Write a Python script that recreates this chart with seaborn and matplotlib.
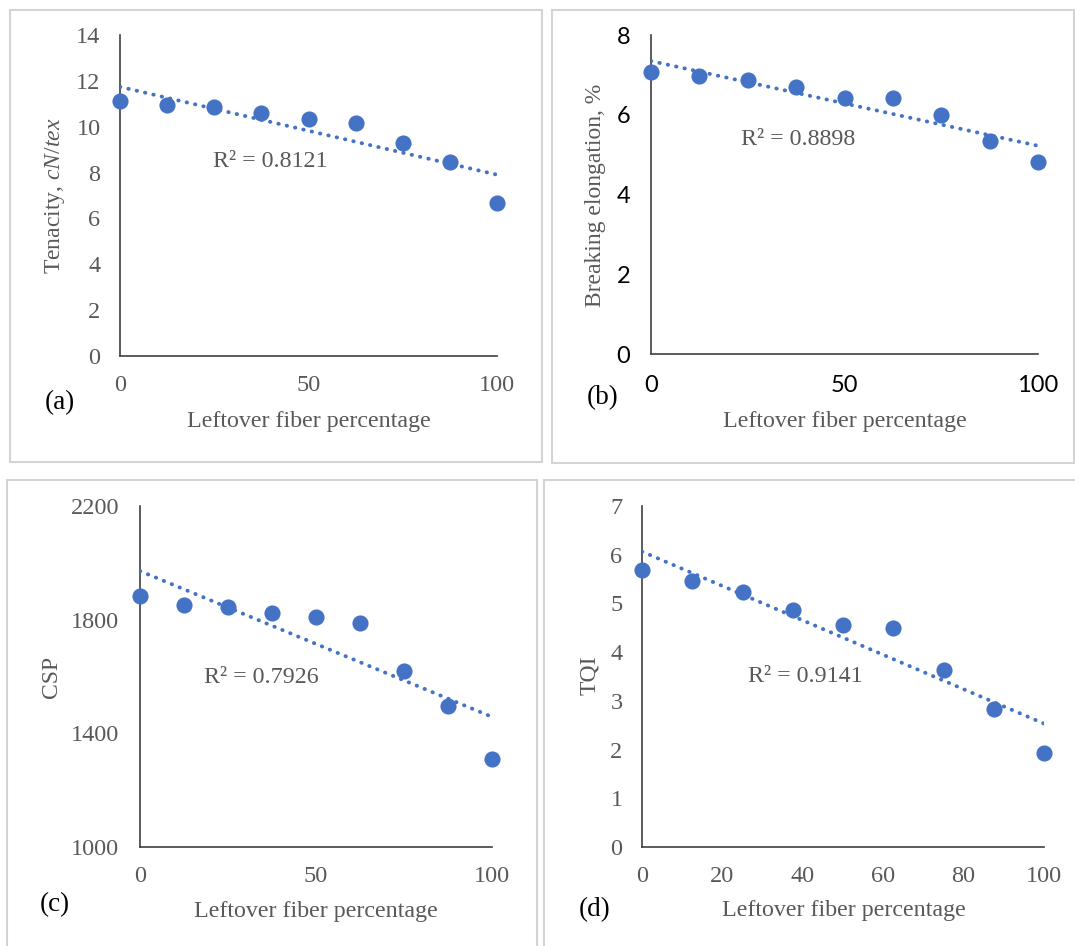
"""Four-panel yarn property vs leftover fiber percentage, Excel-style trendlines."""

import matplotlib

matplotlib.use("Agg")

import matplotlib.pyplot as plt
import seaborn as sns
from matplotlib.patches import Rectangle

# --------------------------------------------------------------------------- #
# data
# --------------------------------------------------------------------------- #
leftover = [0, 12.5, 25, 37.5, 50, 62.5, 75, 87.5, 100]
tenacity = [11.13, 10.93, 10.84, 10.61, 10.32, 10.15, 9.27, 8.47, 6.69]
elongation = [7.07, 6.97, 6.86, 6.69, 6.42, 6.41, 5.99, 5.33, 4.82]
csp = [1884, 1851, 1846, 1825, 1810, 1789, 1620, 1496, 1310]
tqi = [5.68, 5.47, 5.23, 4.87, 4.55, 4.49, 3.64, 2.84, 1.92]

r2_values = ["0.8121", "0.8898", "0.7926", "0.9141"]
panel_tags = ["(a)", "(b)", "(c)", "(d)"]
y_labels = [r"Tenacity, $\mathit{cN/tex}$", "Breaking elongation, %", "CSP", "TQI"]
x_label = "Leftover fiber percentage"
y_ticks = [list(range(0, 15, 2)), list(range(0, 9, 2)),
           [1000, 1400, 1800, 2200], list(range(0, 8))]
x_ticks = [[0, 50, 100], [0, 50, 100], [0, 50, 100], [0, 20, 40, 60, 80, 100]]

# --------------------------------------------------------------------------- #
# layout in pixels of the 1075x946 canvas
# --------------------------------------------------------------------------- #
W, H = 1075, 946
# axes: left, right, top, bottom
axes_px = [(120, 497, 35, 356), (651, 1038, 35, 354),
           (140, 492, 506, 847), (642, 1044, 506, 847)]
# panel frames: x0, y0, x1, y1
frames_px = [(10, 10, 542, 462), (552, 10, 1074, 463),
             (7, 480, 537, 955), (544, 480, 1085, 955)]
xlabel_px = [(309, 421), (845, 422), (316, 911), (844, 910)]
ylabel_px = [(55, 196), (596, 195), (52, 677), (590, 675)]
tag_px = [(60, 403), (603, 398), (55, 905), (595, 910)]
r2_pos = [(24.8, 8.5), (23.3, 5.39), (18.3, 1598), (26.4, 3.51)]
ytick_pad = [14, 15, 15, 14]
xtick_pad = [14, 15, 14, 14]

BLUE = "#4472C4"
GREY = "#595959"
SERIF = "Liberation Serif"

sns.set_style("white")
plt.rcParams["font.family"] = [SERIF, "DejaVu Sans"]
plt.rcParams["mathtext.fontset"] = "custom"
plt.rcParams["mathtext.rm"] = SERIF
plt.rcParams["mathtext.it"] = SERIF + ":italic"

fig = plt.figure(figsize=(W / 100, H / 100), dpi=100)

series = [tenacity, elongation, csp, tqi]
for i, yvals in enumerate(series):
    l, r, t, b = axes_px[i]
    ax = fig.add_axes([l / W, 1 - b / H, (r - l) / W, (b - t) / H])

    sns.regplot(x=leftover, y=yvals, ax=ax, ci=None, truncate=True,
                scatter_kws=dict(s=135, color=BLUE, linewidths=0, alpha=1,
                                 clip_on=False, zorder=3),
                line_kws=dict(color=BLUE, lw=2.8, ls=(0, (0.1, 2.1)),
                              dash_capstyle="round", zorder=4))

    ax.set_xlim(0, 100)
    ax.set_ylim(y_ticks[i][0], y_ticks[i][-1])
    ax.set_xticks(x_ticks[i])
    ax.set_yticks(y_ticks[i])
    sns.despine(ax=ax)
    for side in ("left", "bottom"):
        ax.spines[side].set_color("#404040")
        ax.spines[side].set_linewidth(1.2)
        ax.spines[side].set_zorder(2)

    if i == 1:
        # panel (b) keeps Excel's default sans tick font in black
        ax.tick_params(length=0, labelsize=17, labelcolor="black")
        for lab in ax.get_xticklabels() + ax.get_yticklabels():
            lab.set_family(["Lato", "DejaVu Sans"])
    else:
        ax.tick_params(length=0, labelsize=17.5, labelcolor=GREY)
    ax.tick_params(axis="x", pad=xtick_pad[i])
    ax.tick_params(axis="y", pad=ytick_pad[i])

    ax.set_xlabel(x_label, fontsize=17.3, color=GREY, va="center")
    ax.xaxis.set_label_coords(xlabel_px[i][0] / W, 1 - xlabel_px[i][1] / H,
                              transform=fig.transFigure)
    ax.set_ylabel(y_labels[i], fontsize=17, color=GREY, va="center")
    ax.yaxis.set_label_coords(ylabel_px[i][0] / W, 1 - ylabel_px[i][1] / H,
                              transform=fig.transFigure)

    ax.text(r2_pos[i][0], r2_pos[i][1], f"R\u00b2 = {r2_values[i]}",
            fontsize=17.3, color=GREY, ha="left", va="center")

    fig.text(tag_px[i][0] / W, 1 - tag_px[i][1] / H, panel_tags[i],
             fontsize=19.5, color="black", ha="center", va="center")

    x0, y0, x1, y1 = frames_px[i]
    fig.add_artist(Rectangle((x0 / W, 1 - y1 / H), (x1 - x0) / W, (y1 - y0) / H,
                             transform=fig.transFigure, fill=False,
                             ec="#d4d4d4", lw=1.5, zorder=0))

fig.savefig("out.png", dpi=100)
plt.close(fig)
